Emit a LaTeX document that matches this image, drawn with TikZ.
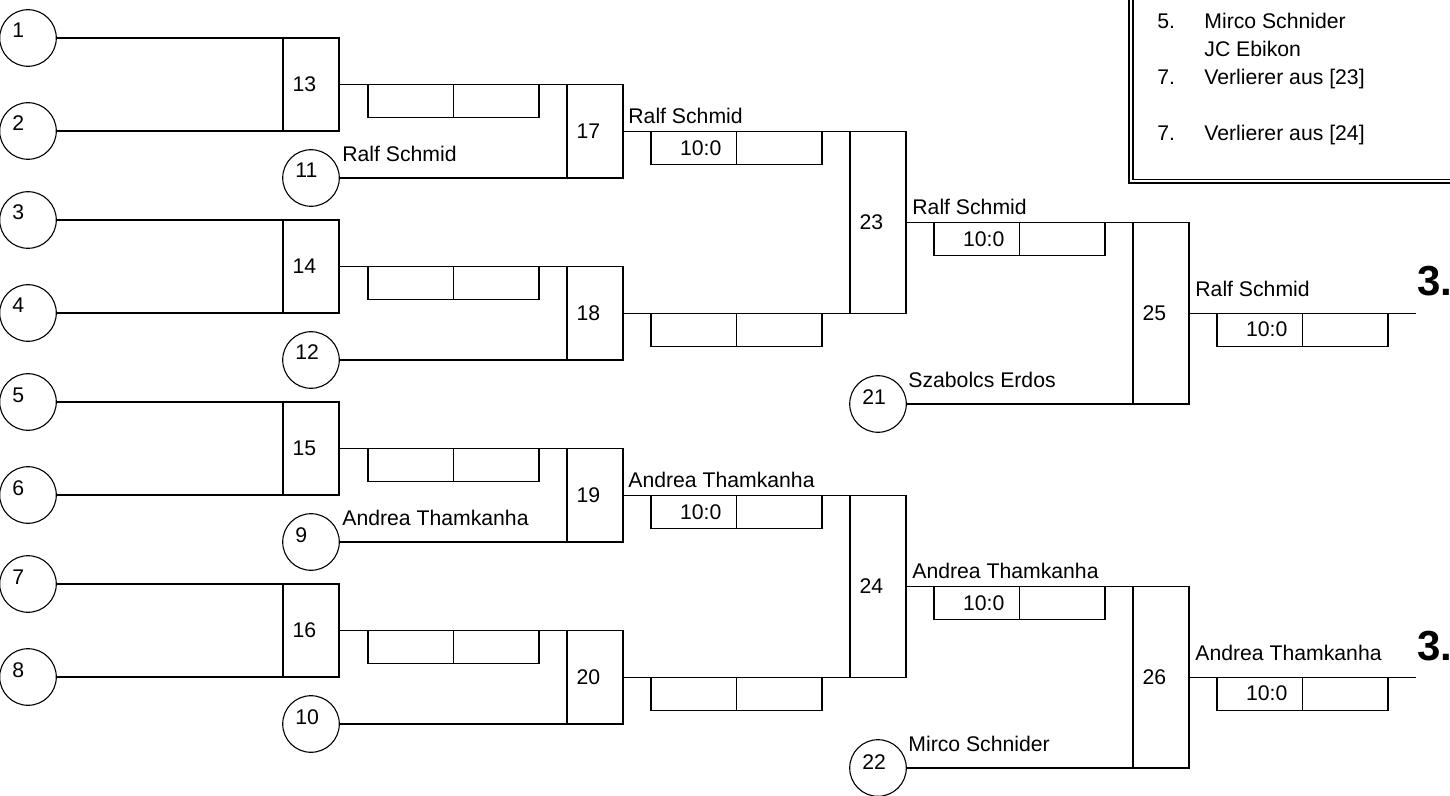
\documentclass[tikz,border=0pt]{standalone}
\usepackage{fontspec}
\setmainfont{Liberation Sans}
\begin{document}
\begin{tikzpicture}[x=0.5pt,y=-0.5pt,
  lw/.style={line width=0.55pt},
  txt/.style={font=\fontsize{10.6}{12.7}\selectfont,inner sep=0},
  player/.style={draw,lw,circle,minimum size=28.3pt,inner sep=0,outer sep=0},
  matchbox/.style={draw,lw,rectangle,minimum width=28pt,text width=18.5pt,align=left,inner ysep=0,inner xsep=4.75pt,outer sep=0,font=\fontsize{10.6}{12.7}\selectfont},
  cell/.style={draw,lw,rectangle,minimum width=42.75pt,minimum height=16.5pt,inner sep=0,outer sep=0,anchor=north west},
  nm/.style={txt,anchor=base west},
  rank/.style={font=\fontsize{21}{24}\selectfont\bfseries,anchor=base west,inner sep=0},
]
\useasboundingbox (0,0) rectangle (1450,796);
\fill[white] (0,0) rectangle (1450,796);
\clip (0,0) rectangle (1450,796);

% rounds 1 and 2
\foreach \k/\a/\b/\m/\s/\n in {0/1/2/13/11/17, 1/3/4/14/12/18, 2/5/6/15/9/19, 3/7/8/16/10/20}{
  \pgfmathsetmacro\yt{38+182*\k}
  \pgfmathsetmacro\yb{131+182*\k}
  \pgfmathsetmacro\ym{84.5+182*\k}
  \pgfmathsetmacro\ys{178+182*\k}
  \pgfmathsetmacro\yn{131.25+182*\k}
  \node[player] (c\a) at (28,\yt) {};
  \node[nm] at (12,\yt) {\a};
  \node[player] (c\b) at (28,\yb) {};
  \node[nm] at (12,\yb) {\b};
  \node[matchbox,minimum height=46.5pt] (b\m) at (311,\ym) {\m};
  \draw[lw] (c\a.east) -- (b\m.north west);
  \draw[lw] (c\b.east) -- (b\m.south west);
  \node[player] (c\s) at (311,\ys) {};
  \node[nm] at (295,\ys) {\s};
  \node[matchbox,minimum height=46.75pt] (b\n) at (595,\yn) {\n};
  \draw[lw] (b\m.east) -- (b\n.north west);
  \draw[lw] (c\s.east) -- (b\n.south west);
  \node[cell] (s\m-a) at (368,\ym) {};
  \node[cell] (s\m-b) at (s\m-a.north east) {};
  \node[cell] (s\n-a) at (651,\yn) {};
  \node[cell] (s\n-b) at (s\n-a.north east) {};
}

% round 3
\node[matchbox,minimum height=91pt] (b23) at (878,222.25) {23};
\node[matchbox,minimum height=91pt] (b24) at (878,586.25) {24};
\draw[lw] (b17.east) -- (b23.north west);
\draw[lw] (b18.east) -- (b23.south west);
\draw[lw] (b19.east) -- (b24.north west);
\draw[lw] (b20.east) -- (b24.south west);
\node[cell] (s23-a) at (934,222.25) {};
\node[cell] (s23-b) at (s23-a.north east) {};
\node[cell] (s24-a) at (934,586.25) {};
\node[cell] (s24-b) at (s24-a.north east) {};

% round 4
\node[player] (c21) at (878,404) {};
\node[nm] at (862,405) {21};
\node[player] (c22) at (878,768) {};
\node[nm] at (862,769) {22};
\node[matchbox,minimum height=90.875pt] (b25) at (1161,313.125) {25};
\node[matchbox,minimum height=90.875pt] (b26) at (1161,677.125) {26};
\draw[lw] (b23.east) -- (b25.north west);
\draw[lw] (c21.east) -- (b25.south west);
\draw[lw] (b24.east) -- (b26.north west);
\draw[lw] (c22.east) -- (b26.south west);
\coordinate (e25) at (1416,313.125);
\coordinate (e26) at (1416,677.125);
\draw[lw] (b25.east) -- (e25);
\draw[lw] (b26.east) -- (e26);
\node[cell] (s25-a) at (1217,313.125) {};
\node[cell] (s25-b) at (s25-a.north east) {};
\node[cell] (s26-a) at (1217,677.125) {};
\node[cell] (s26-b) at (s26-a.north east) {};

% scores
\foreach \c in {17,19,23,24,25,26}{
  \node[txt,xshift=3.5pt] at (s\c-a) {10:0};
}

% names
\node[nm] at (342,161.5) {Ralf Schmid};
\node[nm] at (342,525.5) {Andrea Thamkanha};
\node[nm] at (628,123.75) {Ralf Schmid};
\node[nm] at (628,487.75) {Andrea Thamkanha};
\node[nm] at (912,214.75) {Ralf Schmid};
\node[nm] at (912,578.75) {Andrea Thamkanha};
\node[nm] at (908,387.5) {Szabolcs Erdos};
\node[nm] at (908,751.5) {Mirco Schnider};
\node[nm] at (1195,296.5) {Ralf Schmid};
\node[nm] at (1195,660.5) {Andrea Thamkanha};
\node[rank] at (1417,296) {3.};
\node[rank] at (1417,660) {3.};

% legend
\draw[lw] (1129,-10) -- (1129,183) -- (1460,183);
\draw[lw] (1133,-10) -- (1133,179.5) -- (1460,179.5);
\node[nm] at (1157,29) {5.};
\node[nm] at (1204,29) {Mirco Schnider};
\node[nm] at (1204,57) {JC Ebikon};
\node[nm] at (1157,85) {7.};
\node[nm] at (1204,85) {Verlierer aus [23]};
\node[nm] at (1157,141) {7.};
\node[nm] at (1204,141) {Verlierer aus [24]};
\end{tikzpicture}
\end{document}
